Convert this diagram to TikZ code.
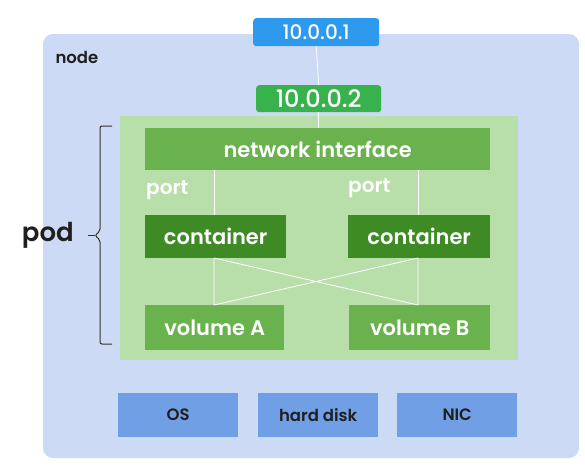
\documentclass[tikz,border=0pt]{standalone}
\usepackage{fontspec}
\setmainfont{Poppins}[UprightFont={* Medium},BoldFont={* SemiBold}]
\definecolor{nodebg}{HTML}{CCDAF5}
\definecolor{podbg}{HTML}{B8DEA9}
\definecolor{midgreen}{HTML}{6AB24E}
\definecolor{darkgreen}{HTML}{3E8A24}
\definecolor{hwblue}{HTML}{719FE6}
\definecolor{ipblue}{HTML}{2E9AEE}
\definecolor{ipgreen}{HTML}{38B24C}
\definecolor{inktext}{HTML}{1F1F1F}
\begin{document}
\begin{tikzpicture}[x=1pt,y=-1pt,
  box/.style={draw=none,inner sep=0pt,anchor=north west},
  lbl/.style={text=white,font=\fontsize{21}{24}\selectfont\bfseries},
  hwlbl/.style={text=inktext,font=\fontsize{16.5}{20}\selectfont\bfseries},
  link/.style={draw=white,line width=0.8pt}]
\useasboundingbox (0,0) rectangle (585,466);
% outer node
\fill[nodebg,rounded corners=10pt] (43,34) rectangle (579,458);
\node[anchor=west,text=inktext,font=\fontsize{16.5}{19}\selectfont\bfseries] (nodelbl) at (52,57) {node};
% pod
\fill[podbg] (120,116) rectangle (518,360);
% ip boxes
\node[box,fill=ipblue,rounded corners=3pt,minimum width=126pt,minimum height=28pt] (ip1) at (253,18) {};
\node[text=white,font=\fontsize{20}{22}\selectfont] at (ip1.center) {10.0.0.1};
\node[box,fill=ipgreen,rounded corners=3pt,minimum width=125pt,minimum height=27pt] (ip2) at (256,85) {};
\node[text=white,font=\fontsize{24}{28}\selectfont] at (ip2.center) {10.0.0.2};
\draw[link] (ip1.south) -- (ip2.north);
% network interface
\node[box,fill=midgreen,minimum width=345pt,minimum height=42pt] (ni) at (145,128) {};
\node[lbl] at (ni.center) {network interface};
\draw[link] (ip2.south) -- (ni.north -| ip2.south);
% containers
\node[box,fill=darkgreen,minimum width=141pt,minimum height=43pt] (c1) at (145,215) {};
\node[lbl] at (c1.center) {container};
\node[box,fill=darkgreen,minimum width=142pt,minimum height=43pt] (c2) at (348,215) {};
\node[lbl] at (c2.center) {container};
% volumes
\node[box,fill=midgreen,minimum width=139pt,minimum height=45pt] (v1) at (145,305) {};
\node[lbl] at (v1.center) {volume A};
\node[box,fill=midgreen,minimum width=141pt,minimum height=45pt] (v2) at (349,305) {};
\node[lbl] at (v2.center) {volume B};
% ports
\coordinate (p1t) at (214,170);
\coordinate (p2t) at (418,170);
\draw[link] (p1t) -- (p1t |- c1.north);
\draw[link] (p2t) -- (p2t |- c2.north);
\node[lbl,anchor=west,inner sep=0pt,font=\fontsize{20}{24}\selectfont\bfseries] (port1) at (146,190) {port};
\node[lbl,anchor=west,inner sep=0pt,font=\fontsize{20}{24}\selectfont\bfseries] (port2) at (348,188) {port};
% volume links
\coordinate (c1b) at (214,258);
\coordinate (c2b) at (418,258);
\coordinate (v1t) at (214,305);
\coordinate (v2t) at (418,305);
\draw[link] (c1b) -- (v1t) -- (c2b) -- (v2t) -- (c1b);
% hardware
\node[box,fill=hwblue,minimum width=120pt,minimum height=44pt] (os) at (118,393) {};
\node[hwlbl] at (os.center) {OS};
\node[box,fill=hwblue,minimum width=120pt,minimum height=44pt] (hd) at (258,393) {};
\node[hwlbl] at (hd.center) {hard disk};
\node[box,fill=hwblue,minimum width=120pt,minimum height=44pt] (nic) at (397,393) {};
\node[hwlbl] at (nic.center) {NIC};
% pod brace
\draw[line width=1pt,black!80,rounded corners=2pt] (112,126) -- (100,126) -- (100,231) -- (95,235.5) -- (100,240) -- (100,344) -- (112,344);
\coordinate (btip) at (88,235.5);
\draw[line width=1pt,black!80] (95,235.5) -- (btip);
\node[anchor=east,inner sep=0pt,text=inktext,font=\fontsize{26}{30}\selectfont\bfseries] (podlbl) at (74,235.5) {pod};
\end{tikzpicture}
\end{document}
